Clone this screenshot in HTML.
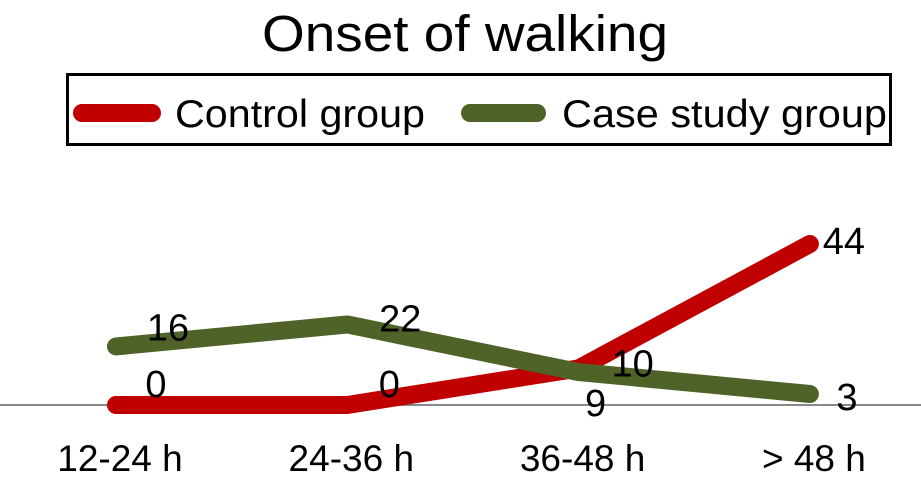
<!DOCTYPE html>
<html><head><meta charset="utf-8">
<style>
html,body{margin:0;padding:0;background:#fff;}
svg{display:block;font-family:"Liberation Sans",sans-serif;}
</style></head>
<body>
<svg id="chart" width="921" height="481" viewBox="0 0 921 481">
  <text x="465" y="51" font-size="51" text-anchor="middle" textLength="406" lengthAdjust="spacingAndGlyphs" fill="#000">Onset of walking</text>
  <g>
    <rect x="67.5" y="74.5" width="823" height="70" fill="#fff" stroke="#000" stroke-width="3"/>
    <line x1="82" y1="113" x2="152" y2="113" stroke="#c00000" stroke-width="18" stroke-linecap="round"/>
    <text x="175" y="127" font-size="39" textLength="250" lengthAdjust="spacingAndGlyphs" fill="#000">Control group</text>
    <line x1="470" y1="113" x2="537" y2="113" stroke="#4f6228" stroke-width="18" stroke-linecap="round"/>
    <text x="562" y="127" font-size="39" textLength="325" lengthAdjust="spacingAndGlyphs" fill="#000">Case study group</text>
  </g>
  <line x1="0" y1="405" x2="921" y2="405" stroke="#888" stroke-width="2"/>
  <g id="lines"></g>
  <g id="labels"></g>
</svg>
<script>
const categories = ["12-24 h", "24-36 h", "36-48 h", "> 48 h"];
const controlValues = [0, 0, 10, 44];
const caseValues = [16, 22, 9, 3];
const seriesNames = ["Control group", "Case study group"];

const NS = "http://www.w3.org/2000/svg";
const linesG = document.getElementById("lines");
const labelsG = document.getElementById("labels");
function xScale(i){ return 116 + i * 231.3; }
function yScale(v){ return 405 - v * 3.66; }

function drawSeries(vals, color, name, labelDx, labelDy){
  const pts = vals.map((v,i)=>xScale(i)+","+yScale(v)).join(" ");
  const pl = document.createElementNS(NS,"polyline");
  pl.setAttribute("points", pts);
  pl.setAttribute("fill","none");
  pl.setAttribute("stroke",color);
  pl.setAttribute("stroke-width","18");
  pl.setAttribute("stroke-linecap","round");
  pl.setAttribute("stroke-linejoin","round");
  
  
  linesG.appendChild(pl);
  vals.forEach((v,i)=>{
    const t = document.createElementNS(NS,"text");
    t.setAttribute("x", xScale(i)+labelDx[i]);
    t.setAttribute("y", yScale(v)+labelDy[i]);
    t.setAttribute("font-size","38");
    t.setAttribute("text-anchor","middle");
    t.textContent = String(v);
    
    
    labelsG.appendChild(t);
  });
}
drawSeries(controlValues, "#c00000", "control", [40,42,54,34], [-8,-8,8,10]);
drawSeries(caseValues, "#4f6228", "case", [52,53,17,37], [-6,7,44,16]);

categories.forEach((c,i)=>{
  const t = document.createElementNS(NS,"text");
  t.setAttribute("x", xScale(i)+4);
  t.setAttribute("y", 471);
  t.setAttribute("font-size","37");
  t.setAttribute("text-anchor","middle");
  t.textContent = c;
  
  
  labelsG.appendChild(t);
});
</script>
</body></html>
